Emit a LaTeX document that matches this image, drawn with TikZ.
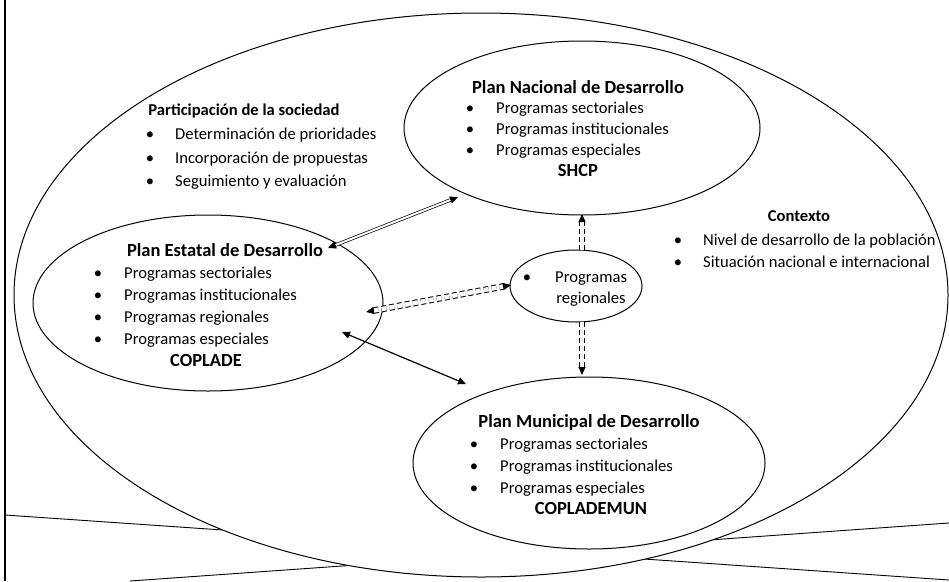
\documentclass[tikz,border=0pt]{standalone}
\usepackage{fontspec}
\setmainfont{Carlito}
\usetikzlibrary{shapes.geometric,arrows.meta}
\begin{document}
\begin{tikzpicture}[x=1pt,y=-1pt,
  every node/.style={font=\fontsize{16.6}{19}\selectfont, inner sep=0pt},
  plan/.style={ellipse, draw, line width=1pt, fill=none},
  head/.style={font=\fontsize{16.6}{19}\selectfont\bfseries},
  bighead/.style={font=\fontsize{18.5}{21}\selectfont\bfseries},
  item/.style={anchor=base west},
  bul/.style={anchor=base},
  >={Triangle[length=8pt,width=7pt]},
  dbl/.style={line width=0.7pt, double distance=2pt},
  ddash/.style={line width=1pt, double distance=4.5pt, dash pattern=on 5pt off 3pt}
]
\useasboundingbox (0,0) rectangle (949,581);
\begin{scope}
\clip (0,0) rectangle (949,581);
\draw[line width=0.9pt] (5,515) -- (949,580);
\draw[line width=0.9pt] (130,581) -- (949,523);
\node[ellipse, draw, line width=1pt, fill=white, minimum width=934pt, minimum height=564pt] (outer) at (481,295) {};
\end{scope}
\draw[line width=2.2pt] (5,0) -- (5,581);

% ellipses
\node[plan, minimum width=356pt, minimum height=174pt] (nac) at (582,128) {};
\node[plan, minimum width=350pt, minimum height=176pt] (est) at (208,303) {};
\node[plan, minimum width=132pt, minimum height=72pt] (reg) at (576,286) {};
\node[plan, minimum width=352pt, minimum height=172pt] (mun) at (589,463) {};

% Participacion
\node[head, anchor=base] (ph) at (244,115) {Participación de la sociedad};
\node[bul] (pb1) at (150,139) {•}; \node[item] (p1) at (175,139) {Determinación de prioridades};
\node[bul] (pb2) at (150,163) {•}; \node[item] (p2) at (175,163) {Incorporación de propuestas};
\node[bul] (pb3) at (150,186) {•}; \node[item] (p3) at (175,186) {Seguimiento y evaluación};

% Nacional
\node[bighead, anchor=base] (nh) at (578,93) {Plan Nacional de Desarrollo};
\node[bul] (nb1) at (470,113) {•}; \node[item] (n1) at (496,113) {Programas sectoriales};
\node[bul] (nb2) at (470,134) {•}; \node[item] (n2) at (496,134) {Programas institucionales};
\node[bul] (nb3) at (470,155) {•}; \node[item] (n3) at (496,155) {Programas especiales};
\node[bighead, anchor=base] (nf) at (578,176) {SHCP};

% Contexto
\node[head, anchor=base] (ch) at (799,221) {Contexto};
\node[bul] (cb1) at (678,245) {•}; \node[item] (c1) at (703,245) {Nivel de desarrollo de la población};
\node[bul] (cb2) at (678,267) {•}; \node[item] (c2) at (703,267) {Situación nacional e internacional};

% Estatal
\node[bighead, anchor=base] (eh) at (225,256) {Plan Estatal de Desarrollo};
\node[bul] (eb1) at (98,278) {•}; \node[item] (e1) at (124,278) {Programas sectoriales};
\node[bul] (eb2) at (98,300) {•}; \node[item] (e2) at (124,300) {Programas institucionales};
\node[bul] (eb3) at (98,322) {•}; \node[item] (e3) at (124,322) {Programas regionales};
\node[bul] (eb4) at (98,344) {•}; \node[item] (e4) at (124,344) {Programas especiales};
\node[bighead, anchor=base] (ef) at (206,366) {COPLADE};

% Regional
\node[bul] (rb1) at (527,282) {•}; \node[item] (r1) at (555,282) {Programas};
\node[anchor=base] (r2) at (591,303) {regionales};

% Municipal
\node[bighead, anchor=base] (mh) at (589,427) {Plan Municipal de Desarrollo};
\node[bul] (mb1) at (474,449) {•}; \node[item] (m1) at (500,449) {Programas sectoriales};
\node[bul] (mb2) at (474,471) {•}; \node[item] (m2) at (500,471) {Programas institucionales};
\node[bul] (mb3) at (474,493) {•}; \node[item] (m3) at (500,493) {Programas especiales};
\node[bighead, anchor=base] (mf) at (591,514) {COPLADEMUN};

% arrow end points
\coordinate (a1s) at (328,248);
\coordinate (a1e) at (458,197);
\coordinate (a2s) at (366,312);
\coordinate (a2e) at (511,285);
\coordinate (a3s) at (342,332);
\coordinate (a3e) at (466,384);
\coordinate (a4s) at (582,250);
\coordinate (a4e) at (582,214);
\coordinate (a5s) at (582,322);
\coordinate (a5e) at (582,375);

\draw[dbl, <->] (a1s) -- (a1e);
\draw[ddash, <->] (a2s) -- (a2e);
\draw[line width=1.2pt, <->] (a3s) -- (a3e);
\draw[ddash, ->] (a4s) -- (a4e);
\draw[ddash, ->] (a5s) -- (a5e);
\end{tikzpicture}
\end{document}
